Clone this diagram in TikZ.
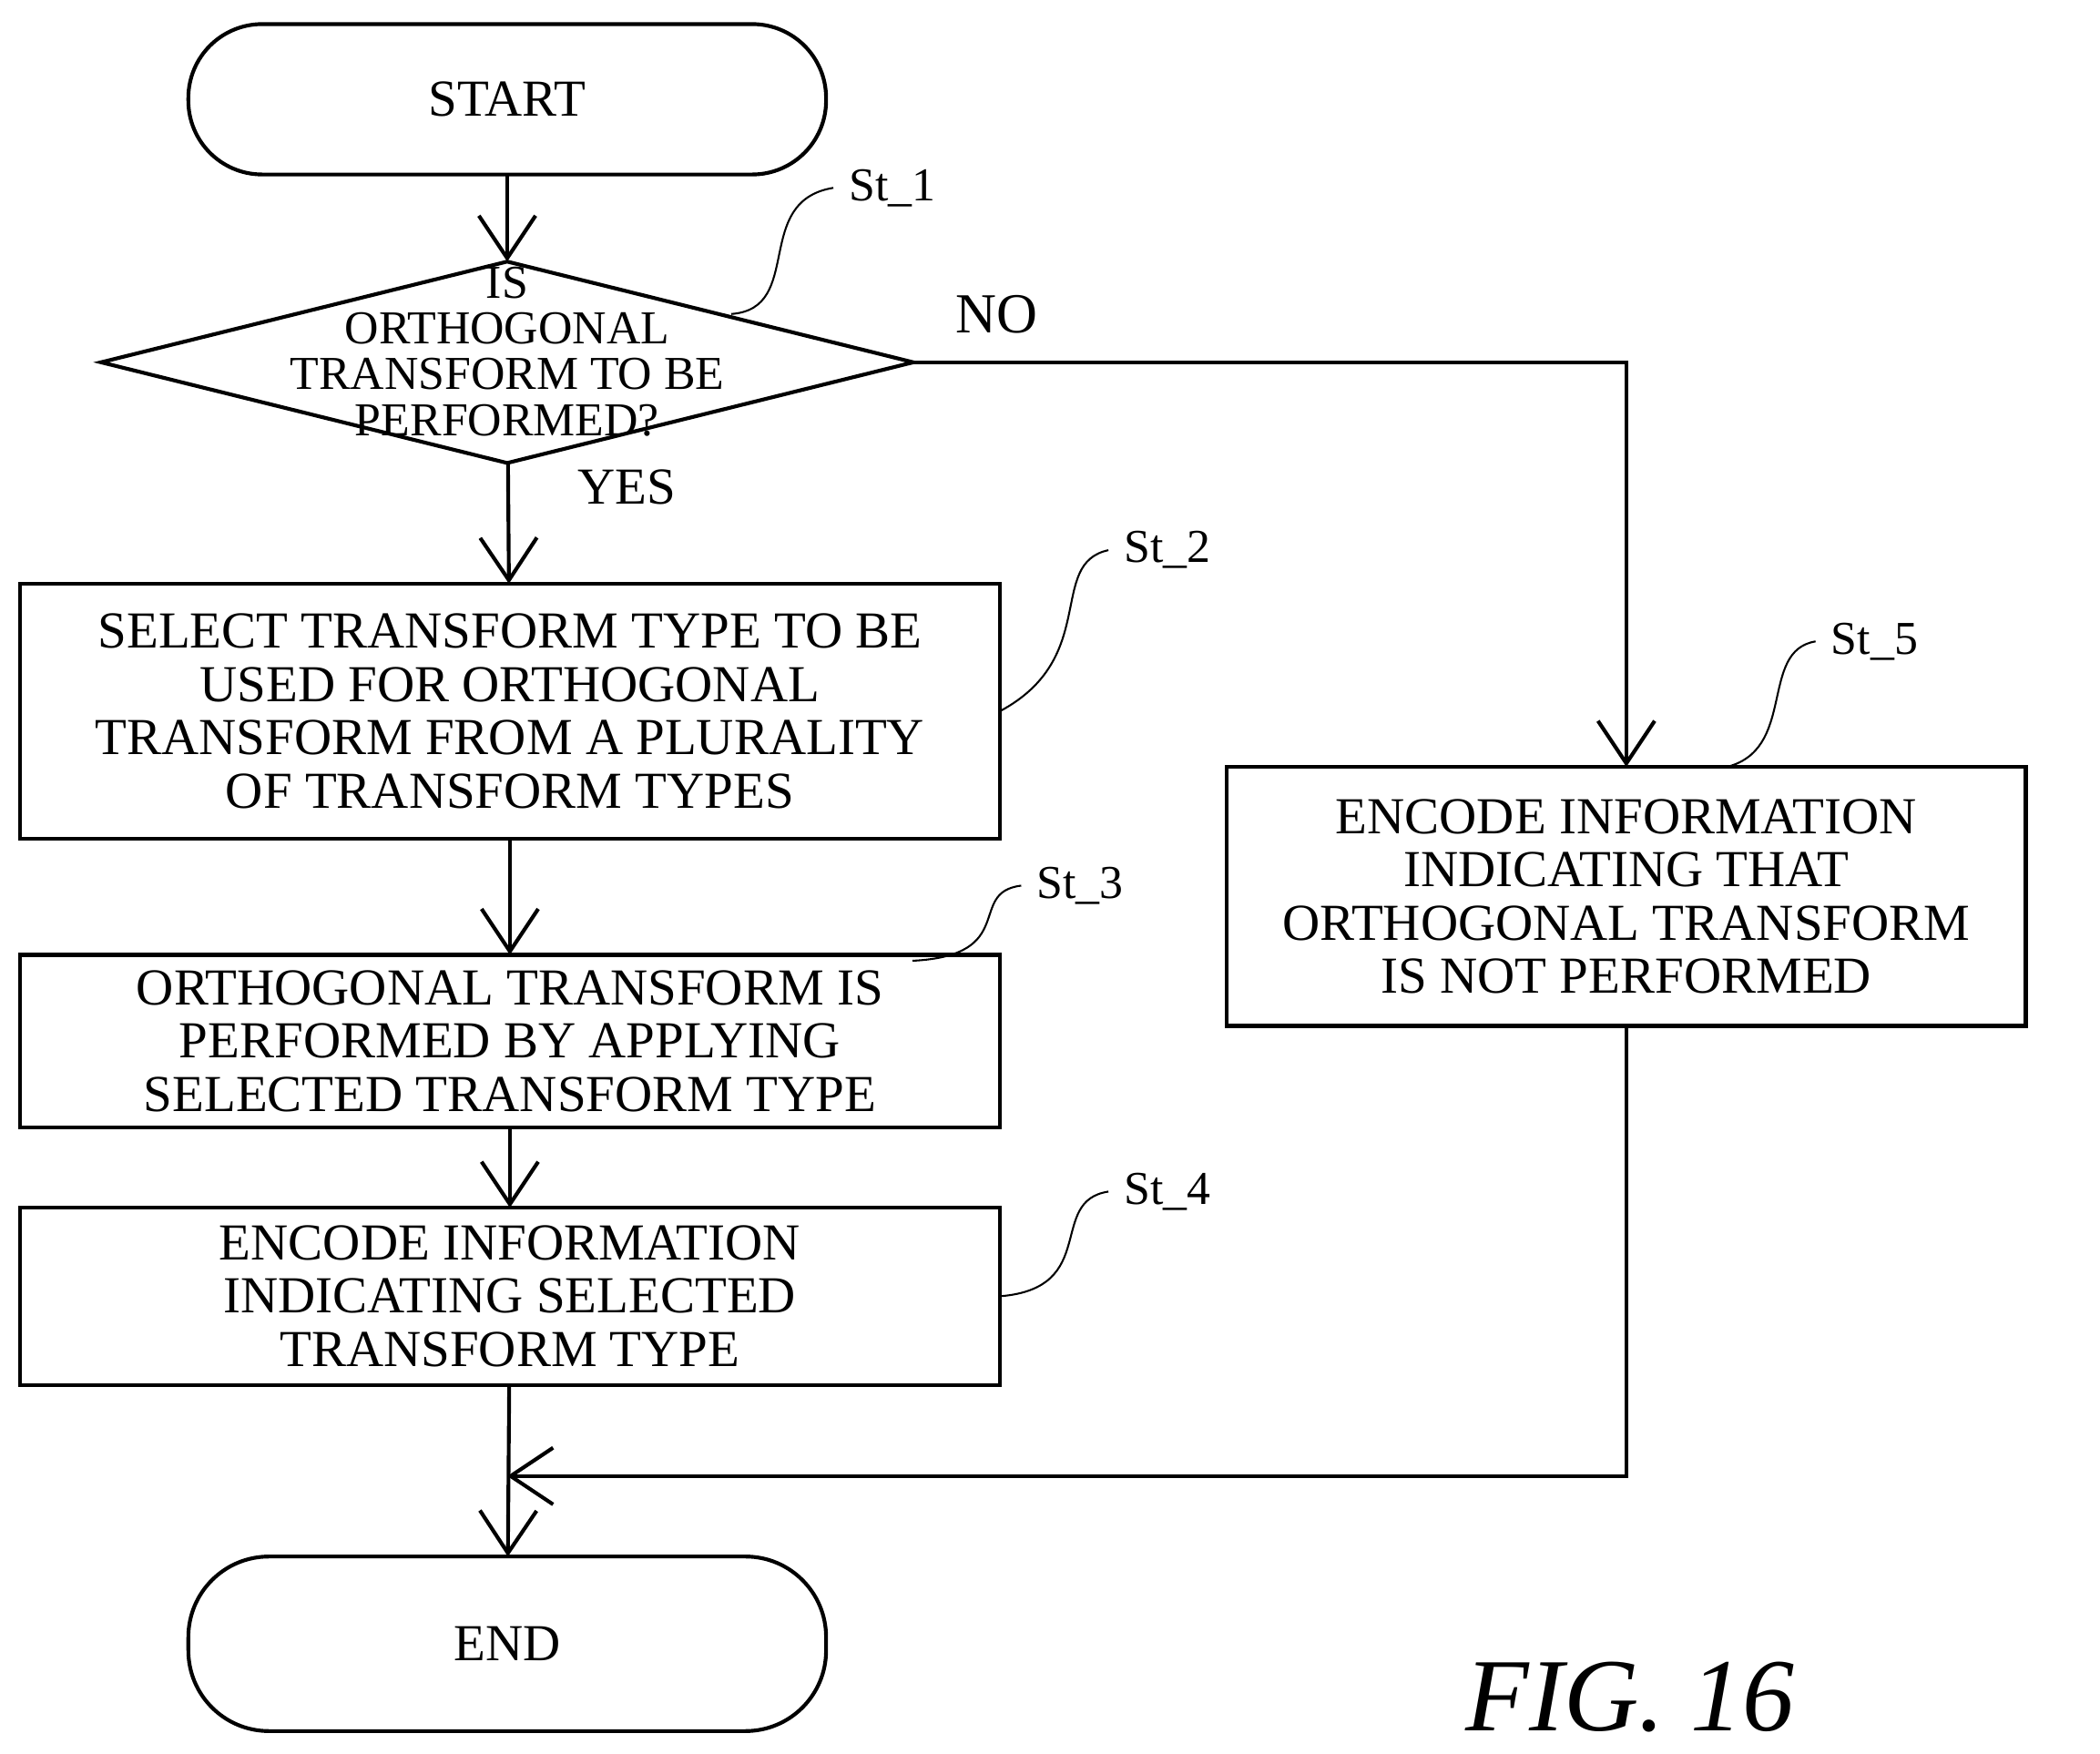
\documentclass[tikz,border=0pt]{standalone}
\usepackage{fontspec}
\setmainfont{Liberation Serif}
\usetikzlibrary{arrows.meta,shapes.geometric,positioning}
\begin{document}
\begin{tikzpicture}[x=0.01cm,y=-0.01cm,
    outer sep=0pt,
    myfont/.style={font=\fontsize{11}{11.3}\selectfont},
    mybox/.style={draw,thick,rectangle,align=center,myfont},
    mydec/.style={draw,thick,diamond,minimum width=6.05cm,minimum height=1.5cm,inner sep=0pt},
    myarrow/.style={thick,-{Straight Barb[length=9pt,width=12pt]}},
    mylead/.style={thin},
    ]
    \useasboundingbox (0,0) rectangle (1565,1307);
    \node (start) at (378,74)  [draw,thick,rounded corners=0.55cm,minimum width=4.75cm,minimum height=1.12cm,myfont] {START};
    \node (dec)   at (378,270) [mydec] {};
    \node (dect)  at (378,262) [align=center,font=\fontsize{10}{9.7}\selectfont] {IS\\ORTHOGONAL\\TRANSFORM TO BE\\PERFORMED?};
    \node (sel)   at (380,530) [mybox,minimum width=7.3cm,minimum height=1.9cm] {SELECT TRANSFORM TYPE TO BE\\USED FOR ORTHOGONAL\\TRANSFORM FROM A PLURALITY\\OF TRANSFORM TYPES};
    \node (orth)  at (380,776) [mybox,minimum width=7.3cm,minimum height=1.23cm] {ORTHOGONAL TRANSFORM IS\\PERFORMED BY APPLYING\\SELECTED TRANSFORM TYPE};
    \node (encs)  at (380,966) [mybox,minimum width=7.3cm,minimum height=1.32cm] {ENCODE INFORMATION\\INDICATING SELECTED\\TRANSFORM TYPE};
    \node (encn)  at (1212,668) [mybox,minimum width=5.95cm,minimum height=1.93cm] {ENCODE INFORMATION\\INDICATING THAT\\ORTHOGONAL TRANSFORM\\IS NOT PERFORMED};
    \node (stop)  at (378,1225) [draw,thick,rounded corners=0.6cm,minimum width=4.75cm,minimum height=1.3cm,myfont] {END};

    \draw [myarrow] (start) -- (dec);
    \draw [myarrow] (dec) -- (sel) node [pos=0.2,right=0.4cm,myfont] {YES};
    \draw [myarrow] (sel) -- (orth);
    \draw [myarrow] (orth) -- (encs);
    \draw [myarrow] (encs) -- (stop);
    \draw [myarrow] (dec.east) -| (encn.north) node [pos=0.0,above right=0.1cm and 0.2cm,font=\large] {NO};
    \coordinate (join) at (stop.north |- 0,1100);
    \draw [myarrow] (encn.south) |- (join);

    % step labels and leaders
    \node (st1) at (665,140) {St\_1};
    \node (st2) at (870,410) {St\_2};
    \node (st3) at (805,660) {St\_3};
    \node (st4) at (870,888) {St\_4};
    \node (st5) at (1397,478) {St\_5};
    \draw [mylead] (545,234) .. controls (600,230) and (560,150) .. (st1.west);
    \draw [mylead] (sel.east) .. controls (820,490) and (780,420) .. (st2.west);
    \draw [mylead] (680,716) .. controls (760,712) and (720,665) .. (st3.west);
    \draw [mylead] (encs.east) .. controls (820,960) and (780,895) .. (st4.west);
    \draw [mylead] (1285,572) .. controls (1340,560) and (1310,485) .. (st5.west);

    \node (fig) at (1215,1265) {\fontsize{22}{22}\selectfont\itshape FIG. 16};
\end{tikzpicture}
\end{document}
